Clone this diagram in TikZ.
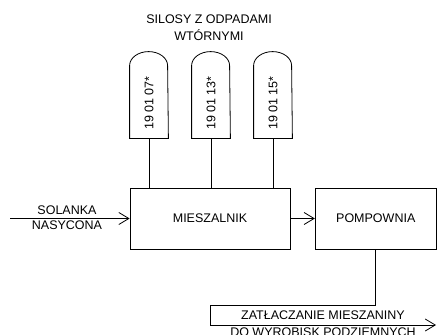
\documentclass[tikz,border=0pt]{standalone}
\usepackage{fontspec}
\setmainfont{Liberation Sans}
\usetikzlibrary{positioning,arrows.meta}

\begin{document}
\begin{tikzpicture}[
x=1pt,y=-1pt,
>={Straight Barb[length=10pt,width=12pt]},
line width=.8pt,
font=\fontsize{12.5}{15}\selectfont,
box/.style={
rectangle,
draw,
minimum height=61pt,
inner sep=0pt},
silo/.style={
rectangle,
minimum width=38pt,
minimum height=86pt,
inner sep=0pt},
label/.style={align=center,inner sep=0pt}
]
\useasboundingbox (0,0) rectangle (437,335);

\node[label,font=\fontsize{12.5}{17}\selectfont] (title) at (209,28) {SILOSY Z ODPADAMI\\WTÓRNYMI};

\node[box,minimum width=160pt] (mix) at (210,218.5) {MIESZALNIK};
\node[box,minimum width=121pt] (pomp) at (375.75,218.5) {POMPOWNIA};

\foreach \c[count=\i] in {07,13,15}{
\node[silo] (s\i) at (87+62*\i,95) {};
\node[rotate=90] at ([yshift=-8pt]s\i.center) {19 01 \c*};
\draw (s\i.south west)--([yshift=-14pt]s\i.north west)
 arc[start angle=180,end angle=360,x radius=19,y radius=14]
 --(s\i.south east)--cycle;
\draw (s\i.south)--(s\i.south |- mix.north);
}

% wejscie
\coordinate (in) at (10,218.5);
\node[label] (sol) at (67,218) {SOLANKA\\NASYCONA};
\draw[->] (in)--(mix.west);

\draw[->] (mix.east)--(pomp.west);

% wyjscie
\coordinate (out) at (436,325);
\node[label,font=\fontsize{12.5}{17}\selectfont] (zat) at (323,323.5) {ZATŁACZANIE MIESZANINY\\DO WYROBISK PODZIEMNYCH};
\draw[->] (pomp.south)--++(0,55.5)-|(mix.south |- out)--(out);

\end{tikzpicture}
\end{document}
